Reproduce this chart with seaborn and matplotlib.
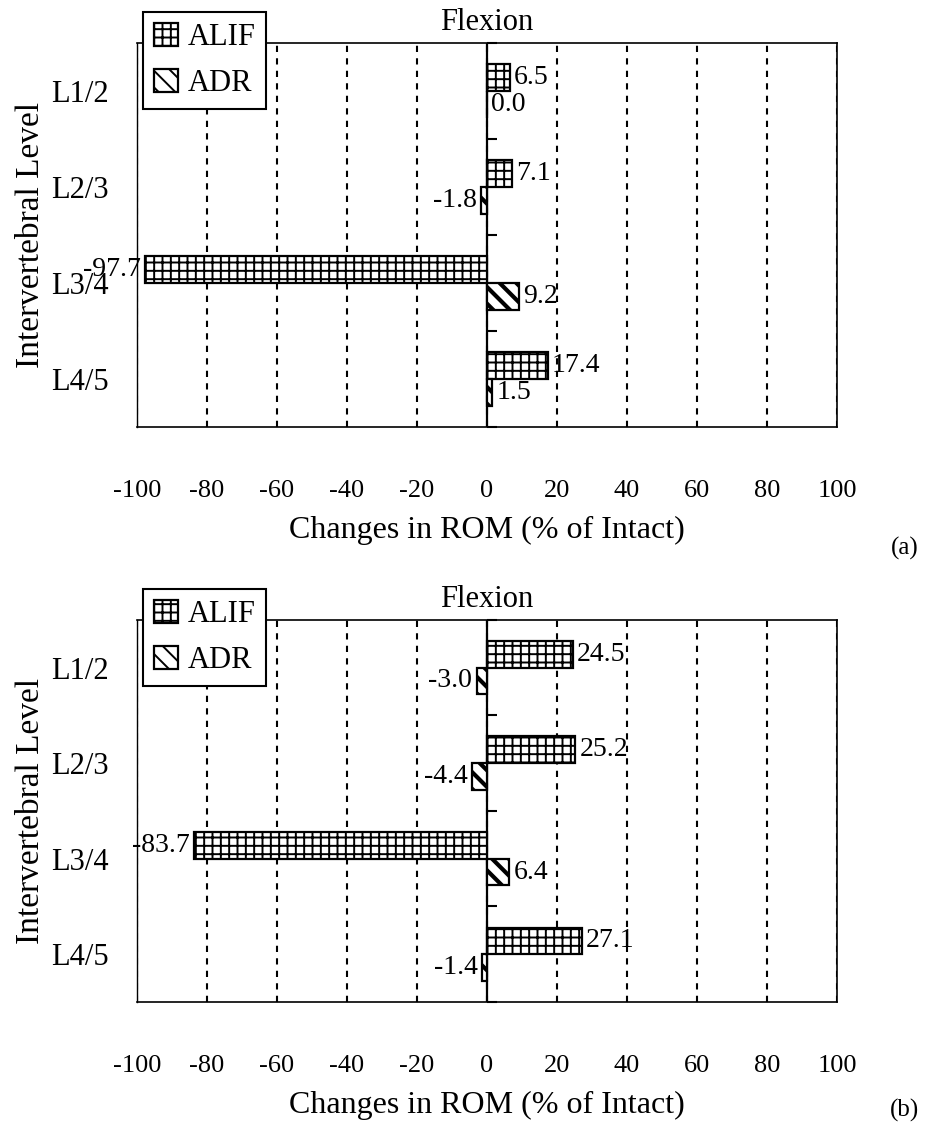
import numpy as np
import pandas as pd
import matplotlib
matplotlib.use("Agg")
import matplotlib.pyplot as plt
import seaborn as sns

# Data
levels = ["L1/2", "L2/3", "L3/4", "L4/5"]
groups = ["ALIF", "ADR"]
alif_a = [6.5, 7.1, -97.7, 17.4]
adr_a = [0.0, -1.8, 9.2, 1.5]
alif_b = [24.5, 25.2, -83.7, 27.1]
adr_b = [-3.0, -4.4, 6.4, -1.4]
x_ticks = [-100, -80, -60, -40, -20, 0, 20, 40, 60, 80, 100]

sns.set_style("white")
plt.rcParams['font.family'] = ['Liberation Serif', 'DejaVu Serif']
plt.rcParams['hatch.linewidth'] = 1.4
plt.rcParams['hatch.color'] = 'black'
for key in ['text.color', 'axes.labelcolor', 'xtick.color', 'ytick.color']:
    plt.rcParams[key] = 'black'

hatches = {"ALIF": "++", "ADR": "\\\\"}
hatch_lw = {"ALIF": 1.4, "ADR": 3.0}


def make_frame(alif, adr):
    rows = []
    for lvl, a, d in zip(levels, alif, adr):
        rows.append({"level": lvl, "group": "ALIF", "value": a})
        rows.append({"level": lvl, "group": "ADR", "value": d})
    return pd.DataFrame(rows)


def draw_panel(ax, df):
    sns.barplot(data=df, x="value", y="level", hue="group", order=levels,
                hue_order=groups, orient="h", width=0.56, dodge=True,
                palette={"ALIF": "white", "ADR": "white"}, edgecolor="black",
                linewidth=1.6, legend=False, ax=ax, zorder=3)

    for cont, grp in zip(ax.containers, groups):
        for bar in cont:
            bar.set_hatch(hatches[grp])
            bar.set_facecolor("white")
            bar.set_edgecolor("black")
            try:
                bar.set_hatch_linewidth(hatch_lw[grp])
            except AttributeError:
                pass
        vals = df[df.group == grp].set_index("level").loc[levels, "value"]
        ax.bar_label(cont, labels=[f"{v:.1f}" for v in vals], padding=3,
                     fontsize=20, zorder=5)

    ax.axvline(0, color="black", linewidth=1.6, zorder=2.5)

    ax.set_xlim(-100, 100)
    ax.set_ylim(3.5, -0.5)
    ax.set_xticks(x_ticks)
    ax.set_xticklabels([str(t) for t in x_ticks])
    ax.tick_params(axis="x", length=0, pad=38, labelsize=19)
    ax.tick_params(axis="y", length=0, pad=20, labelsize=22)
    ax.xaxis.grid(True, color="black", linestyle=(0, (3, 3)), linewidth=1.5)
    ax.yaxis.grid(False)
    ax.set_axisbelow(True)
    for s in ax.spines.values():
        s.set_visible(True)
        s.set_color("black")
        s.set_linewidth(1.2)
    ax.spines["left"].set_linewidth(1.0)

    # category axis crossing at zero with boundary tick marks
    sec = ax.secondary_yaxis(0.5)
    sec.set_yticks([-0.5, 0.5, 1.5, 2.5, 3.5])
    sec.set_yticklabels([])
    sec.tick_params(axis="y", direction="out", length=7, width=1.5, color="black")
    for s in sec.spines.values():
        s.set_visible(False)

    ax.set_xlabel("Changes in ROM (% of Intact)", fontsize=23, labelpad=10)
    ax.set_ylabel("Intervertebral Level", fontsize=24, labelpad=4)
    ax.set_title("Flexion", fontsize=22, pad=9)

    leg = ax.legend(handles=list(ax.containers), labels=groups, loc="upper left",
                    bbox_to_anchor=(0.009, 1.08), borderaxespad=0, fancybox=False,
                    framealpha=1, edgecolor="black", fontsize=22,
                    handlelength=0.8, handleheight=0.8, handletextpad=0.3,
                    labelspacing=0.55, borderpad=0.35)
    leg.get_frame().set_linewidth(1.5)
    leg.set_zorder(10)


fig = plt.figure(figsize=(9.25, 11.31), dpi=100)
ax_a = fig.add_axes([0.148, 0.6225, 0.757, 0.3395])
ax_b = fig.add_axes([0.148, 0.114, 0.757, 0.338])

draw_panel(ax_a, make_frame(alif_a, adr_a))
draw_panel(ax_b, make_frame(alif_b, adr_b))

fig.text(0.978, 0.515, "(a)", fontsize=18, ha="center", va="center")
fig.text(0.978, 0.018, "(b)", fontsize=18, ha="center", va="center")

fig.savefig("out.png", dpi=100, facecolor="white")
